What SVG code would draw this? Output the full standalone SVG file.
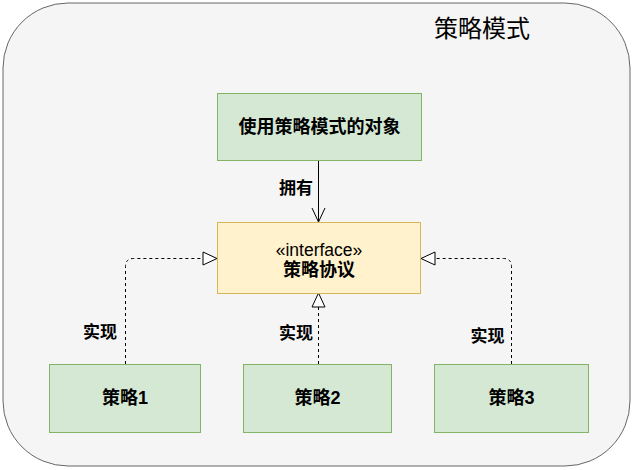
<svg xmlns="http://www.w3.org/2000/svg" width="634" height="470" viewBox="0 0 634 470">
  <defs>
    <style>
      .t { font-family: "Liberation Sans", "Noto Sans CJK SC", sans-serif; fill: #000; text-anchor: middle; dominant-baseline: central; }
      .b { font-weight: bold; }
      .green { fill: #d5e8d4; stroke: #82b366; stroke-width: 1; }
      .yellow { fill: #fff2cc; stroke: #d6b656; stroke-width: 1; }
      .edge { fill: none; stroke: #000; stroke-width: 1; }
      .dash { stroke-dasharray: 3 3; }
      .hollow { fill: #fff; stroke: #000; stroke-width: 1; }
    </style>
  </defs>
  <g id="container">
    <rect x="3" y="3" width="627" height="463" rx="65" ry="65" fill="#f5f5f5" stroke="#666666" stroke-width="1"/>
    <text class="t" x="482" y="28" font-size="24">策略模式</text>
  </g>
  <g id="connectors">
    <g id="edge-own">
      <path class="edge" d="M318.5,161 V221"/>
      <path class="edge" d="M312,208 L318.5,222 L325,208"/>
      <text class="t b" x="296" y="188" font-size="17">拥有</text>
    </g>
    <g id="edge-impl1">
      <path class="edge dash" d="M125.5,364 V266.5 Q125.5,258.5 133.5,258.5 H203"/>
      <path class="hollow" d="M203,252 L217,258.5 L203,265 Z"/>
      <text class="t b" x="100" y="332" font-size="17">实现</text>
    </g>
    <g id="edge-impl2">
      <path class="edge dash" d="M318.5,364 V307"/>
      <path class="hollow" d="M312,307 L318.5,293 L325,307 Z"/>
      <text class="t b" x="296" y="333" font-size="17">实现</text>
    </g>
    <g id="edge-impl3">
      <path class="edge dash" d="M511.5,364 V266.5 Q511.5,258.5 503.5,258.5 H435"/>
      <path class="hollow" d="M435,252 L421,258.5 L435,265 Z"/>
      <text class="t b" x="487.5" y="336" font-size="17">实现</text>
    </g>
  </g>
  <g id="node-context">
    <rect class="green" x="217.5" y="93.5" width="204" height="67"/>
    <text class="t b" x="319.5" y="127" font-size="18">使用策略模式的对象</text>
  </g>
  <g id="node-interface">
    <rect class="yellow" x="217.5" y="222.5" width="203" height="71"/>
    <text class="t" x="319" y="250" font-size="17.5">«interface»</text>
    <text class="t b" x="319" y="270" font-size="18">策略协议</text>
  </g>
  <g id="node-s1">
    <rect class="green" x="49.5" y="364.5" width="151" height="68"/>
    <text class="t b" x="125" y="398" font-size="18">策略1</text>
  </g>
  <g id="node-s2">
    <rect class="green" x="243.5" y="364.5" width="148" height="68"/>
    <text class="t b" x="317.5" y="398" font-size="18">策略2</text>
  </g>
  <g id="node-s3">
    <rect class="green" x="434.5" y="364.5" width="154" height="68"/>
    <text class="t b" x="511.5" y="398" font-size="18">策略3</text>
  </g>
</svg>
